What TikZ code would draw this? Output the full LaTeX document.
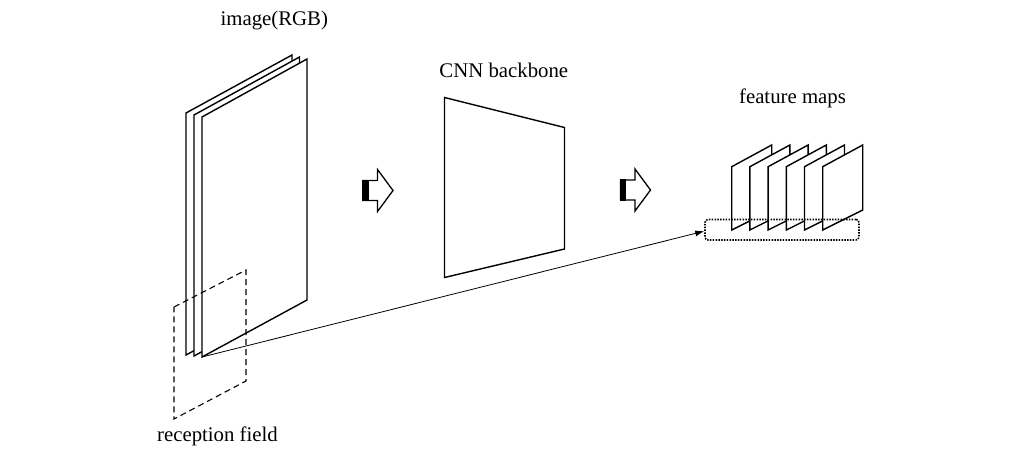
\documentclass[tikz,border=0pt]{standalone}
\usepackage{fontspec}
\setmainfont{Liberation Serif}
\usetikzlibrary{arrows.meta,calc}
\tikzset{
  sheet/.style={draw=black, fill=white, line width=1.4pt, line join=miter},
  rfield/.style={draw=black, line width=1.1pt, dash pattern=on 6pt off 4pt},
  fmbox/.style={draw=black, line width=1.6pt, dash pattern=on 1.5pt off 1.3pt, rounded corners=3pt, inner sep=0pt, minimum width=154pt, minimum height=20.5pt},
  conn/.style={draw=black, line width=0.8pt, -{Latex[length=9pt,width=6pt]}},
  label/.style={anchor=base, inner sep=0pt, font=\fontsize{20.8}{24}\selectfont},
  blockarrow/.pic={
    \draw[line width=1.3pt, line join=miter] (0,-10) -- (14.5,-10) -- (14.5,-21) -- (30,0) -- (14.5,21) -- (14.5,10) -- (0,10) -- cycle;
    \fill[black] (-0.6,-10.6) rectangle (5.5,10.6);
  }
}
\begin{document}
\begin{tikzpicture}[x=1pt,y=-1pt]
\useasboundingbox (0,0) rectangle (1021,448);
% image sheets (back to front)
\draw[sheet] (186,113) -- (292,55) -- (292,298) -- (186,355) -- cycle;
\draw[sheet] (194,115) -- (299.5,57) -- (299.5,299) -- (194,356) -- cycle;
\draw[sheet] (202,117) coordinate (s3tl) -- (307,59) -- (307,300) -- (202,357) coordinate (s3bl) -- cycle;
% reception field
\draw[rfield] (174,307) -- (246,270) -- (246,381) -- (174,419) -- cycle;
% labels
\node[label] (limg) at (274.3,25) {image(RGB)};
\node[label] (lcnn) at (503.8,77) {CNN backbone};
\node[label] (lfm) at (792.5,103) {feature maps};
\node[label] (lrf) at (217.5,441) {reception field};
% CNN backbone trapezoid
\draw[sheet] (444.5,97.5) -- (564.5,127.5) -- (564.5,249) -- (444.5,277.5) -- cycle;
% block arrows
\pic at (363,190.5) {blockarrow};
\pic at (620.5,190) {blockarrow};
% feature maps
\foreach \i in {0,...,5}{
  \pgfmathsetmacro{\xx}{731.7+18.2*\i}
  \draw[sheet] (\xx,166.7) -- ({\xx+40},145) -- ({\xx+40},210) -- (\xx,230) -- cycle;
}
\node[fmbox] (fm) at (782,229.7) {};
% connector
\draw[conn] (s3bl) -- ($(fm.west)+(0,1.5)$);
\end{tikzpicture}
\end{document}
